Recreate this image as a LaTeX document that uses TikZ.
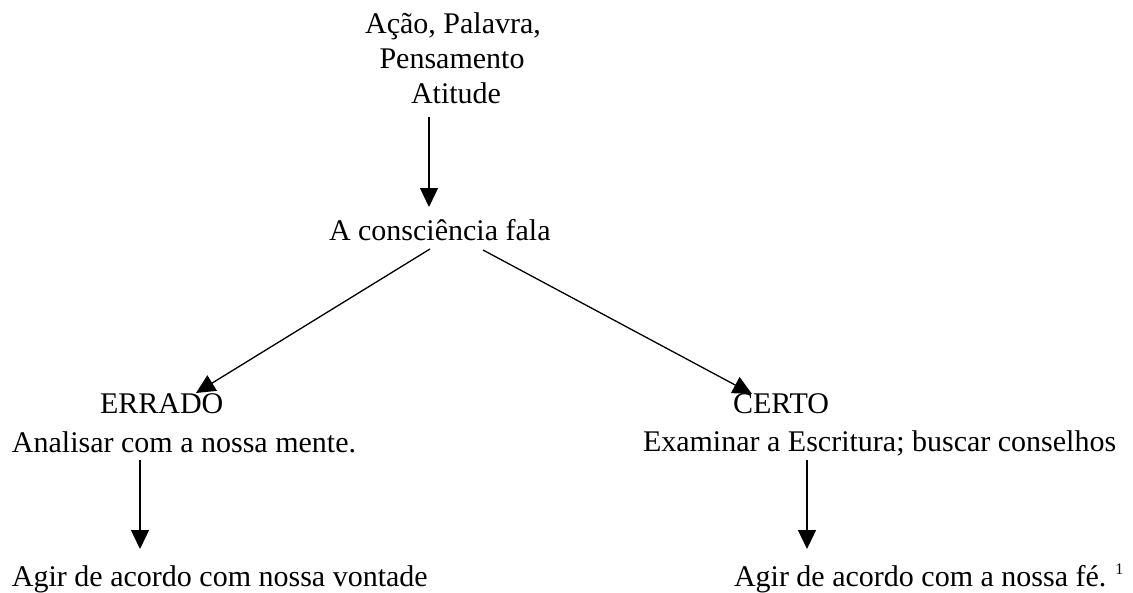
\documentclass[tikz,border=0pt]{standalone}
\usepackage{fontspec}
\setmainfont{Liberation Serif}
\usetikzlibrary{arrows.meta}
\begin{document}
\begin{tikzpicture}[x=1pt,y=-1pt,
  txt/.style={inner sep=0pt,outer sep=0pt,font=\fontsize{30}{36}\selectfont},
  arr/.style={line width=1.3pt,-{Triangle[length=19pt,width=18pt]}}]
\useasboundingbox (0,0) rectangle (1133,592);
% top group
\node[txt,anchor=base] (t1) at (453,33) {Ação, Palavra,};
\node[txt,anchor=base] (t2) at (452,68) {Pensamento};
\node[txt,anchor=base] (t3) at (456,103) {Atitude};
\node[txt,anchor=base west] (c) at (329,240) {A consciência fala};
% left branch
\node[txt,anchor=base west] (err) at (100,413) {ERRADO};
\node[txt,anchor=base west] (ana) at (12,452) {Analisar com a nossa mente.};
\node[txt,anchor=base west] (agl) at (12,586) {Agir de acordo com nossa vontade};
% right branch
\node[txt,anchor=base west] (cer) at (733,413) {CERTO};
\node[txt,anchor=base west] (exa) at (643,451) {Examinar a Escritura; buscar conselhos};
\node[txt,anchor=base west] (agr) at (734,586) {Agir de acordo com a nossa fé.\hspace{9pt}\raisebox{12pt}{\fontsize{16}{16}\selectfont 1}};
% arrow end points
\coordinate (a1s) at (429,117);
\coordinate (a1e) at (429,207);
\coordinate (a2s) at (430,249);
\coordinate (a2e) at (196,393);
\coordinate (a3s) at (483,250);
\coordinate (a3e) at (752,394);
\coordinate (a4s) at (140,460);
\coordinate (a4e) at (140,549);
\coordinate (a5s) at (807,460);
\coordinate (a5e) at (807,549);
\draw[arr] (a1s) -- (a1e);
\draw[arr] (a2s) -- (a2e);
\draw[arr] (a3s) -- (a3e);
\draw[arr] (a4s) -- (a4e);
\draw[arr] (a5s) -- (a5e);
\end{tikzpicture}
\end{document}
